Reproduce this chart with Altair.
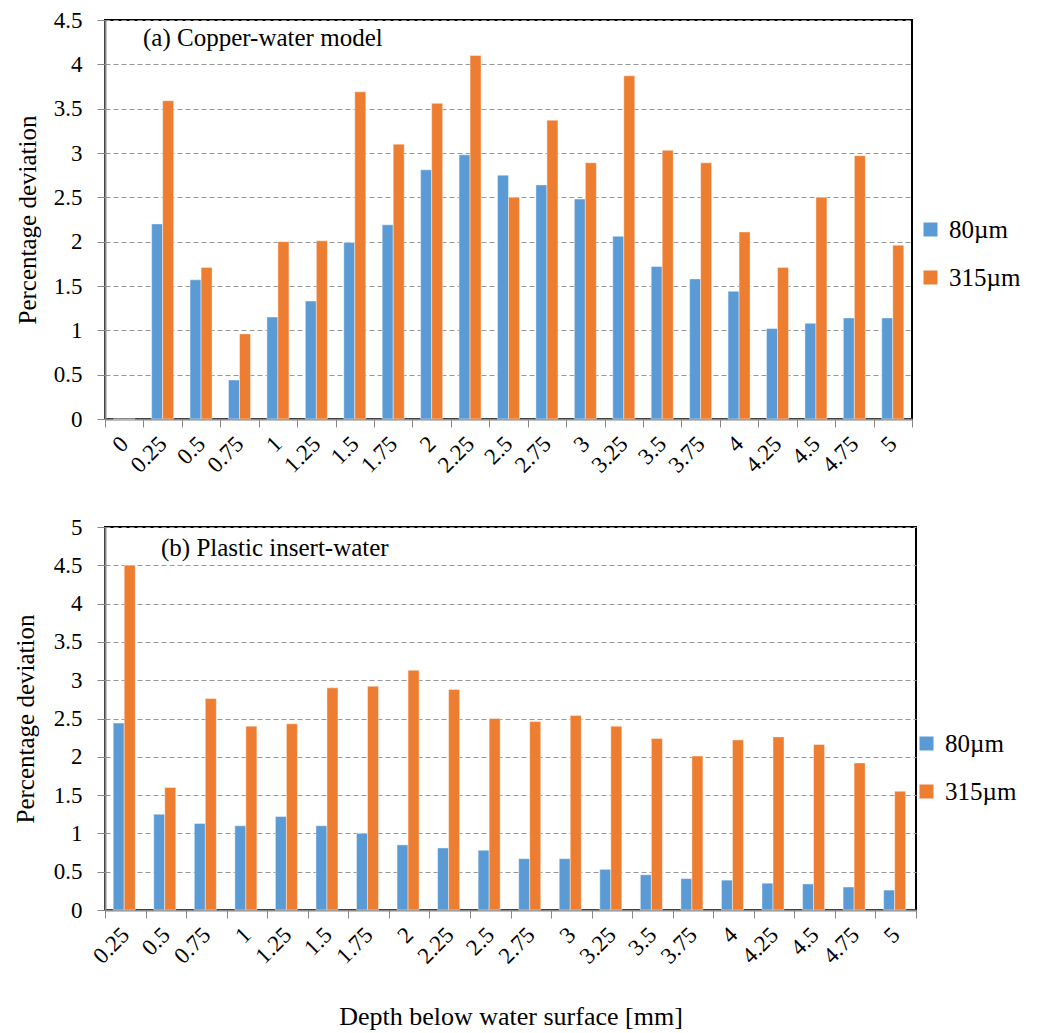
import altair as alt
import pandas as pd

depths_a = ["0", "0.25", "0.5", "0.75", "1", "1.25", "1.5", "1.75", "2", "2.25", "2.5",
            "2.75", "3", "3.25", "3.5", "3.75", "4", "4.25", "4.5", "4.75", "5"]
cu_80 = [0, 2.20, 1.57, 0.44, 1.15, 1.33, 1.99, 2.19, 2.81, 2.98, 2.75,
         2.64, 2.48, 2.06, 1.72, 1.58, 1.44, 1.02, 1.08, 1.14, 1.14]
cu_315 = [0, 3.59, 1.71, 0.96, 2.00, 2.01, 3.69, 3.10, 3.56, 4.10, 2.50,
          3.37, 2.89, 3.87, 3.03, 2.89, 2.11, 1.71, 2.50, 2.97, 1.96]

depths_b = ["0.25", "0.5", "0.75", "1", "1.25", "1.5", "1.75", "2", "2.25", "2.5",
            "2.75", "3", "3.25", "3.5", "3.75", "4", "4.25", "4.5", "4.75", "5"]
pl_80 = [2.44, 1.25, 1.13, 1.10, 1.22, 1.10, 1.00, 0.85, 0.81, 0.78,
         0.67, 0.67, 0.53, 0.46, 0.41, 0.39, 0.35, 0.34, 0.30, 0.26]
pl_315 = [4.50, 1.60, 2.76, 2.40, 2.43, 2.90, 2.92, 3.13, 2.88, 2.50,
          2.46, 2.54, 2.40, 2.24, 2.01, 2.22, 2.26, 2.16, 1.92, 1.55]

series = ["80\u00b5m", "315\u00b5m"]
colors = ["#5B9BD5", "#ED7D31"]
FONT = "Liberation Serif"


def panel(depths, v80, v315, ymax, ticks, label, label_x, label_y, width, height,
          legend_x, legend_y, xtitle, title_pad, pad_outer):
    rows = []
    for d, a, b in zip(depths, v80, v315):
        rows.append({"depth": d, "series": series[0], "value": a})
        rows.append({"depth": d, "series": series[1], "value": b})
    df = pd.DataFrame(rows)

    xaxis = alt.Axis(
        labelAngle=-45, labelAlign="right", labelBaseline="middle",
        labelFont=FONT, labelFontSize=23, labelColor="black", labelPadding=13,
        tickBand="extent", tickSize=8, tickColor="#888888", domainColor="#888888",
        domainWidth=2, grid=False, labelOverlap=False,
        title=xtitle if xtitle else None,
        titleFont=FONT, titleFontSize=26, titleFontWeight="normal", titleColor="black",
        titlePadding=36,
    )
    yaxis = alt.Axis(
        values=ticks, format="~g", grid=True, gridDash=[5, 3], gridColor="#999999",
        gridWidth=1, tickSize=8, tickColor="#888888", domainColor="#888888",
        domainWidth=2, labelFont=FONT, labelFontSize=23, labelColor="black",
        labelPadding=15, title="Percentage deviation", titleFont=FONT,
        titleFontSize=25, titleFontWeight="normal", titleColor="black",
        titlePadding=title_pad,
    )
    bars = alt.Chart(df).mark_bar(stroke="white", strokeWidth=0.6, strokeOpacity=0.7).encode(
        x=alt.X("depth:N", sort=depths, scale=alt.Scale(paddingInner=0, paddingOuter=0),
                axis=xaxis),
        xOffset=alt.XOffset("series:N", sort=series,
                            scale=alt.Scale(paddingInner=0, paddingOuter=pad_outer)),
        y=alt.Y("value:Q", scale=alt.Scale(domain=[0, ymax], nice=False), axis=yaxis),
        color=alt.Color("series:N", sort=series,
                        scale=alt.Scale(domain=series, range=colors),
                        legend=alt.Legend(
                            title=None, orient="none", legendX=legend_x, legendY=legend_y,
                            symbolType="square", symbolSize=196, symbolStrokeWidth=0,
                            labelFont=FONT, labelFontSize=25, labelColor="black",
                            rowPadding=22, labelOffset=6)),
    )
    txt = alt.Chart(pd.DataFrame({"t": [label]})).mark_text(
        align="left", baseline="alphabetic", font=FONT, fontSize=25, color="black"
    ).encode(x=alt.value(label_x), y=alt.value(label_y), text="t:N")
    return alt.layer(bars, txt).properties(width=width, height=height)


top = panel(depths_a, cu_80, cu_315, 4.5, [i * 0.5 for i in range(10)],
            "(a) Copper-water model", 38, 26, 807, 399, 813, 197, None, 13, 0.745)
bottom = panel(depths_b, pl_80, pl_315, 5, [i * 0.5 for i in range(11)],
               "(b) Plastic insert-water", 56, 29, 811, 383, 809, 204,
               "Depth below water surface [mm]", 15, 0.73)

chart = alt.concat(top, bottom, columns=1, spacing=37, align="none", bounds="full").resolve_scale(
    color="independent"
).properties(
    padding={"left": 4, "top": 0, "right": 5, "bottom": 0}
).configure(
    font=FONT
).configure_axis(
    labelFont=FONT, titleFont=FONT
).configure_legend(
    labelFont=FONT
).configure_view(stroke="black", strokeWidth=2)

chart.save("out.html", embed_options={"renderer": "svg", "actions": False})
